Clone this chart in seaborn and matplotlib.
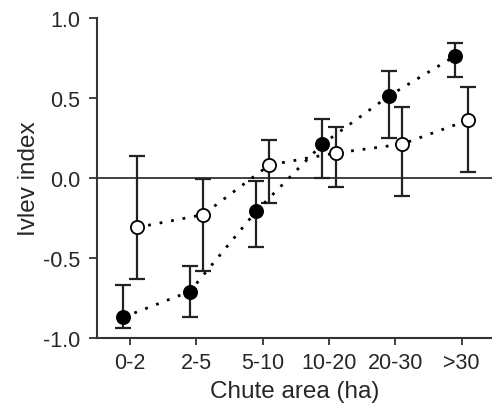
import numpy as np
import pandas as pd
import matplotlib
matplotlib.use("Agg")
import matplotlib.pyplot as plt
import seaborn as sns

categories = ['0-2', '2-5', '5-10', '10-20', '20-30', '>30']

# filled circles
filled_mean = [-0.87, -0.71, -0.21, 0.21, 0.51, 0.76]
filled_low = [-0.94, -0.87, -0.43, 0.00, 0.25, 0.63]
filled_high = [-0.67, -0.55, -0.02, 0.37, 0.67, 0.84]

# open circles
open_mean = [-0.31, -0.23, 0.08, 0.155, 0.21, 0.36]
open_low = [-0.63, -0.58, -0.155, -0.06, -0.115, 0.035]
open_high = [0.135, -0.01, 0.235, 0.32, 0.445, 0.565]

sns.set_style("ticks")
plt.rcParams['font.family'] = ['Liberation Sans', 'DejaVu Sans']

fig = plt.figure(figsize=(4.92, 4.06), dpi=100)
ax = fig.add_axes([0.197, 0.165, 0.803, 0.789])

x = np.arange(len(categories))
offset = 0.1

series = [
    (x - offset, filled_mean, filled_low, filled_high, 'black'),
    (x + offset, open_mean, open_low, open_high, 'white'),
]

ax.axhline(0, color='#333333', lw=1.3, zorder=1)

for xs, m, lo, hi, face in series:
    m = np.array(m)
    yerr = [m - np.array(lo), np.array(hi) - m]
    ax.errorbar(xs, m, yerr=yerr, fmt='none', ecolor='#222222', elinewidth=1.6,
                capsize=6, capthick=1.6, zorder=2)
    df = pd.DataFrame({'x': xs, 'y': m})
    sns.lineplot(data=df, x='x', y='y', ax=ax, color='black', linestyle=(0, (1, 3.2)),
                 lw=2.0, zorder=3, estimator=None, sort=False)
    sns.scatterplot(data=df, x='x', y='y', ax=ax, color=face, edgecolor='black',
                    linewidth=1.3, s=90, zorder=4)

ax.set_xlim(-0.5, 5.46)
ax.set_ylim(-1.0, 1.0)
ax.set_xticks(x)
ax.set_xticklabels(categories)
ax.set_yticks([-1.0, -0.5, 0.0, 0.5, 1.0])
ax.set_yticklabels(['-1.0', '-0.5', '0.0', '0.5', '1.0'])
ax.tick_params(axis='both', labelsize=15.5, width=1.3, color='#333333',
               direction='out')
ax.tick_params(axis='y', length=6, pad=6)
ax.tick_params(axis='x', length=5, pad=5)
ax.set_xlabel('Chute area (ha)', fontsize=17.5, labelpad=5)
ax.set_ylabel('Ivlev index', fontsize=17.5, labelpad=2)

for side in ['top', 'right']:
    ax.spines[side].set_visible(False)
for side in ['left', 'bottom']:
    ax.spines[side].set_linewidth(1.5)
    ax.spines[side].set_color('#333333')

fig.savefig('out.png', dpi=100)
